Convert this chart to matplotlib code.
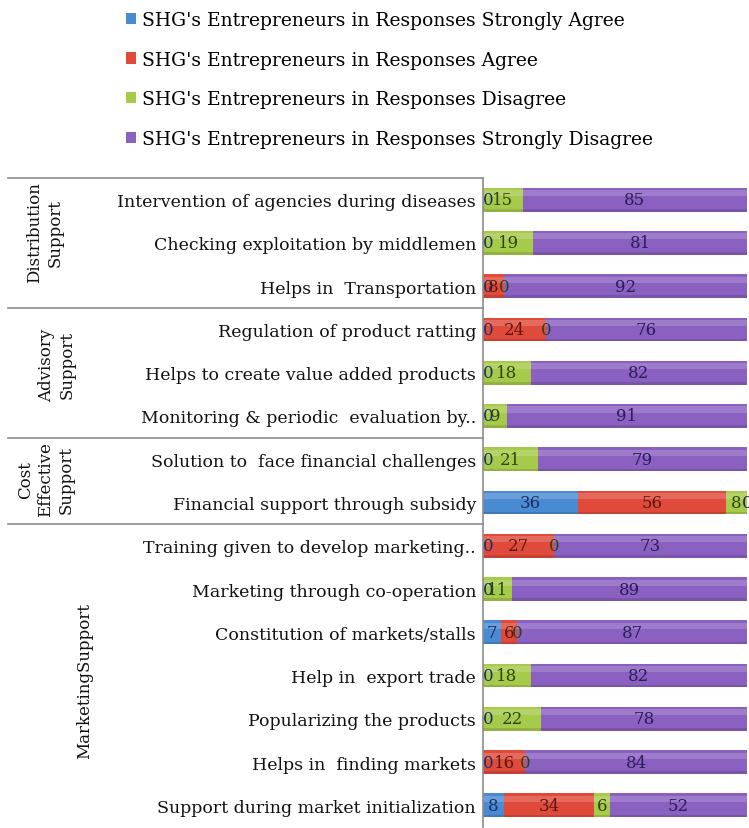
import numpy as np
import matplotlib.pyplot as plt
from matplotlib import transforms

# rows, top to bottom
categories = [
    "Intervention of agencies during diseases",
    "Checking exploitation by middlemen",
    "Helps in  Transportation",
    "Regulation of product ratting",
    "Helps to create value added products",
    "Monitoring & periodic  evaluation by..",
    "Solution to  face financial challenges",
    "Financial support through subsidy",
    "Training given to develop marketing..",
    "Marketing through co-operation",
    "Constitution of markets/stalls",
    "Help in  export trade",
    "Popularizing the products",
    "Helps in  finding markets",
    "Support during market initialization",
]

series_names = [
    "SHG's Entrepreneurs in Responses Strongly Agree",
    "SHG's Entrepreneurs in Responses Agree",
    "SHG's Entrepreneurs in Responses Disagree",
    "SHG's Entrepreneurs in Responses Strongly Disagree",
]

nan = np.nan
strongly_agree = [0, 0, 0, 0, 0, 0, 0, 36, 0, 0, 7, 0, 0, 0, 8]
agree = [nan, nan, 8, 24, nan, nan, nan, 56, 27, nan, 6, nan, nan, 16, 34]
disagree = [15, 19, 0, 0, 18, 9, 21, 8, 0, 11, 0, 18, 22, 0, 6]
strongly_disagree = [85, 81, 92, 76, 82, 91, 79, 0, 73, 89, 87, 82, 78, 84, 52]

group_labels = ["Distribution\nSupport", "Advisory\nSupport",
                "Cost\nEffective\nSupport", "MarketingSupport"]
group_sizes = [3, 3, 2, 7]

colors = ["#4a8ad2", "#e04a3b", "#a6ca4a", "#8a60c0"]
text_colors = ["#1b2f66", "#5c1812", "#2f4410", "#2a1d58"]

W, H = 749, 829
serif = "DejaVu Serif"

fig = plt.figure(figsize=(W / 100, H / 100), dpi=100)
ax_left, ax_right, ax_top, ax_bot = 483, 749, 179, 828
ax = fig.add_axes([ax_left / W, 1 - ax_bot / H,
                   (ax_right - ax_left) / W, (ax_bot - ax_top) / H])

y = np.arange(len(categories))
left = np.zeros(len(categories))
handles = []
for vals, col, tcol, name in zip(
        [strongly_agree, agree, disagree, strongly_disagree],
        colors, text_colors, series_names):
    raw = np.array(vals, dtype=float)
    v = np.nan_to_num(raw)
    bars = ax.barh(y, v, left=left, height=0.55, color=col,
                   edgecolor="none", label=name)
    # light band on top, dark band at the bottom for the bevelled look
    ax.barh(y - 0.15, v, left=left, height=0.14, color="white",
            alpha=0.18, edgecolor="none")
    ax.barh(y + 0.245, v, left=left, height=0.06, color="black",
            alpha=0.12, edgecolor="none")
    handles.append(bars)
    for yi in range(len(raw)):
        if np.isnan(raw[yi]):
            continue
        cx = left[yi] + v[yi] / 2
        ha = "left" if cx == 0 else "center"
        ax.text(cx, yi, "%d" % raw[yi], ha=ha, va="center",
                fontsize=12, family=serif, color=tcol)
    left += v

ax.set_xlim(0, 100.8)
ax.set_ylim(len(categories) - 0.5, -0.5)
ax.set_xticks([])
ax.set_yticks(y)
ax.set_yticklabels(categories, fontsize=12.5, family=serif, color="#111111")
ax.tick_params(axis="y", length=0, pad=5)
for s in ["top", "right", "bottom"]:
    ax.spines[s].set_visible(False)
ax.spines["left"].set_color("#8c8c8c")
ax.spines["left"].set_linewidth(1.2)

# group separators and group names on the left
x0 = (8 - ax_left) / (ax_right - ax_left)
start = 0
text_tr = transforms.blended_transform_factory(fig.transFigure, ax.transData)
group_x = [45, 57, 46, 85]
group_y = [0.74, 3.8, 6.45, 11.1]
for lab, n, gx, gy in zip(group_labels, group_sizes, group_x, group_y):
    ax.plot([x0, 0], [start - 0.5, start - 0.5], transform=ax.get_yaxis_transform(),
            clip_on=False, color="#8c8c8c", lw=1.2)
    ax.text(gx / W, gy, lab, transform=text_tr, rotation=90, ha="center",
            va="center", multialignment="center", fontsize=12, family=serif,
            linespacing=1.25, color="#111111")
    start += n

fig.legend(handles, series_names, loc="upper left",
           bbox_to_anchor=(113 / W, 1 + 1 / H), frameon=False, borderpad=0.2,
           handlelength=0.55, handleheight=0.55, handletextpad=0.3,
           labelspacing=1.15, prop={"family": serif, "size": 13.5})

fig.savefig("out.png", dpi=100)
